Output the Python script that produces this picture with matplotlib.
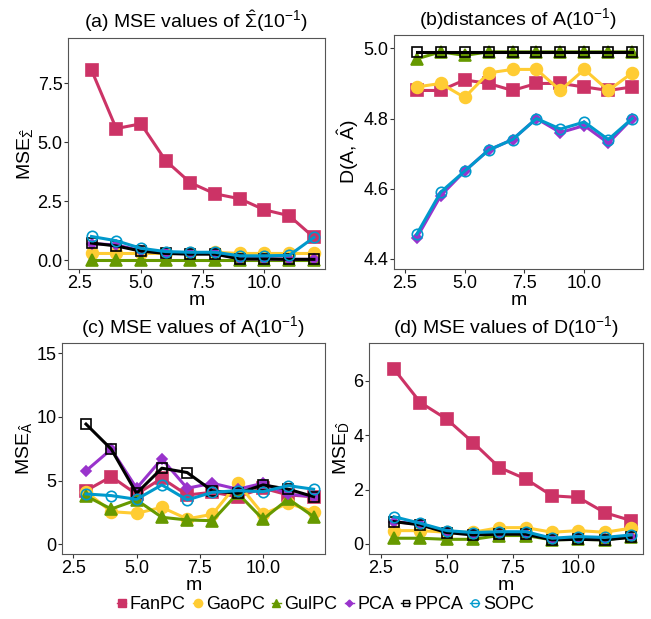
import matplotlib
matplotlib.use("Agg")
import matplotlib.pyplot as plt
from matplotlib.lines import Line2D

plt.rcParams['font.family'] = ['Liberation Sans', 'DejaVu Sans']
plt.rcParams['mathtext.fontset'] = 'custom'
plt.rcParams['mathtext.rm'] = 'Liberation Sans'
plt.rcParams['mathtext.it'] = 'Liberation Sans'
plt.rcParams['mathtext.bf'] = 'Liberation Sans'

m = [3, 4, 5, 6, 7, 8, 9, 10, 11, 12]
methods = ['FanPC', 'GaoPC', 'GulPC', 'PCA', 'PPCA', 'SOPC']

# (a) MSE of Sigma-hat
a_fan = [8.06, 5.58, 5.78, 4.22, 3.28, 2.81, 2.6, 2.13, 1.88, 0.96]
a_gao = [0.28, 0.28, 0.28, 0.28, 0.28, 0.33, 0.28, 0.28, 0.28, 0.28]
a_gul = [0.02, 0.02, 0.02, 0.02, 0.02, 0.02, 0.02, 0.02, 0.02, 0.02]
a_pca = [0.7, 0.64, 0.4, 0.3, 0.28, 0.28, 0.05, 0.05, 0.03, 0.03]
a_ppca = [0.72, 0.6, 0.38, 0.28, 0.25, 0.25, 0.05, 0.05, 0.03, 0.03]
a_sopc = [1.0, 0.82, 0.5, 0.36, 0.33, 0.33, 0.18, 0.18, 0.2, 0.96]

# (b) distances of A
b_fan = [4.88, 4.88, 4.91, 4.90, 4.88, 4.90, 4.90, 4.89, 4.88, 4.89]
b_gao = [4.89, 4.90, 4.86, 4.93, 4.94, 4.94, 4.88, 4.94, 4.88, 4.93]
b_gul = [4.97, 4.99, 4.98, 4.99, 4.99, 4.99, 4.99, 4.99, 4.99, 4.99]
b_pca = [4.46, 4.58, 4.65, 4.71, 4.74, 4.80, 4.76, 4.78, 4.73, 4.80]
b_ppca = [4.99, 4.99, 4.99, 4.99, 4.99, 4.99, 4.99, 4.99, 4.99, 4.99]
b_sopc = [4.47, 4.59, 4.65, 4.71, 4.74, 4.80, 4.77, 4.79, 4.74, 4.80]

# (c) MSE of A
c_fan = [4.21, 5.31, 3.93, 5.18, 3.87, 4.08, 3.74, 4.4, 3.87, 3.74]
c_gao = [4.13, 2.56, 2.43, 2.9, 1.99, 2.36, 4.79, 2.36, 3.22, 2.56]
c_gul = [3.79, 2.77, 3.48, 2.12, 1.91, 1.85, 4.0, 1.96, 3.56, 2.17]
c_pca = [5.76, 7.46, 4.4, 6.7, 4.4, 4.79, 4.32, 4.79, 3.93, 3.74]
c_ppca = [9.43, 7.46, 4.0, 5.97, 5.63, 4.19, 4.0, 4.66, 4.32, 3.74]
c_sopc = [3.95, 3.82, 3.53, 4.66, 3.48, 4.08, 4.21, 4.13, 4.6, 4.32]

# (d) MSE of D
d_fan = [6.43, 5.2, 4.59, 3.73, 2.81, 2.39, 1.77, 1.71, 1.15, 0.86]
d_gao = [0.49, 0.49, 0.43, 0.43, 0.6, 0.6, 0.43, 0.49, 0.43, 0.58]
d_gul = [0.21, 0.21, 0.17, 0.17, 0.31, 0.31, 0.15, 0.17, 0.15, 0.27]
d_pca = [0.82, 0.73, 0.45, 0.38, 0.38, 0.38, 0.17, 0.21, 0.19, 0.27]
d_ppca = [0.82, 0.7, 0.42, 0.33, 0.36, 0.36, 0.15, 0.17, 0.15, 0.24]
d_sopc = [1.0, 0.76, 0.49, 0.42, 0.45, 0.45, 0.21, 0.27, 0.24, 0.33]

colors = ['#CC3366', '#FFCC33', '#669900', '#9933CC', '#000000', '#0099CC']
markers = ['s', 'o', '^', 'D', 's', 'o']
msizes = [8, 8.5, 8.5, 5, 7, 7.5]
filled = [True, True, True, True, False, False]

fig = plt.figure(figsize=(6.51, 6.19), dpi=100)
pos = [
    [0.1045, 0.5654, 0.3948, 0.3732],
    [0.6052, 0.5654, 0.3825, 0.3780],
    [0.0952, 0.1050, 0.4040, 0.3409],
    [0.5668, 0.1050, 0.4209, 0.3409],
]
panels = [
    ([a_fan, a_gao, a_gul, a_pca, a_ppca, a_sopc], r'(a) MSE values of $\hat{\Sigma}(10^{-1})$',
     r'MSE$_{\hat{\Sigma}}$', (-0.38, 9.42), [0, 2.5, 5, 7.5], ['0.0', '2.5', '5.0', '7.5']),
    ([b_fan, b_gao, b_gul, b_pca, b_ppca, b_sopc], r'(b)distances of A$(10^{-1})$',
     r'D(A, $\hat{A}$)', (4.371, 5.038), [4.4, 4.6, 4.8, 5.0], ['4.4', '4.6', '4.8', '5.0']),
    ([c_fan, c_gao, c_gul, c_pca, c_ppca, c_sopc], r'(c) MSE values of A$(10^{-1})$',
     r'MSE$_{\hat{A}}$', (-0.76, 15.79), [0, 5, 10, 15], ['0', '5', '10', '15']),
    ([d_fan, d_gao, d_gul, d_pca, d_ppca, d_sopc], r'(d) MSE values of D$(10^{-1})$',
     r'MSE$_{\hat{D}}$', (-0.37, 7.39), [0, 2, 4, 6], ['0', '2', '4', '6']),
]

for p, (series, title, ylab, ylim, yt, ytl) in zip(pos, panels):
    ax = fig.add_axes(p)
    for i, ys in enumerate(series):
        ax.plot(m, ys, color=colors[i], lw=2.2, marker=markers[i], ms=msizes[i],
                mfc=colors[i] if filled[i] else 'none', mec=colors[i],
                mew=1.2, zorder=2 + i)
    ax.set_xlim(2.05, 12.45)
    ax.set_ylim(*ylim)
    ax.set_xticks([2.5, 5, 7.5, 10])
    ax.set_xticklabels(['2.5', '5.0', '7.5', '10.0'])
    ax.set_yticks(yt)
    ax.set_yticklabels(ytl)
    ax.tick_params(labelsize=13, length=3, color='#333333', pad=1)
    for s in ax.spines.values():
        s.set_color('#555555')
    ax.set_title(title, fontsize=14, pad=7)
    ax.set_xlabel('m', fontsize=14, labelpad=0)
    ax.set_ylabel(ylab, fontsize=14, labelpad=2)

handles = [Line2D([0], [0], color=colors[i], lw=1.0, marker=markers[i],
                  ms=msizes[i] * 0.7, mfc=colors[i] if filled[i] else 'none',
                  mec=colors[i], mew=1.0) for i in range(6)]
fig.legend(handles, methods, loc='center', bbox_to_anchor=(0.5, 0.023), ncol=6,
           frameon=False, fontsize=13, handlelength=0.5, handletextpad=0.2,
           columnspacing=0.4, borderaxespad=0)

fig.savefig('out.png', dpi=100)
